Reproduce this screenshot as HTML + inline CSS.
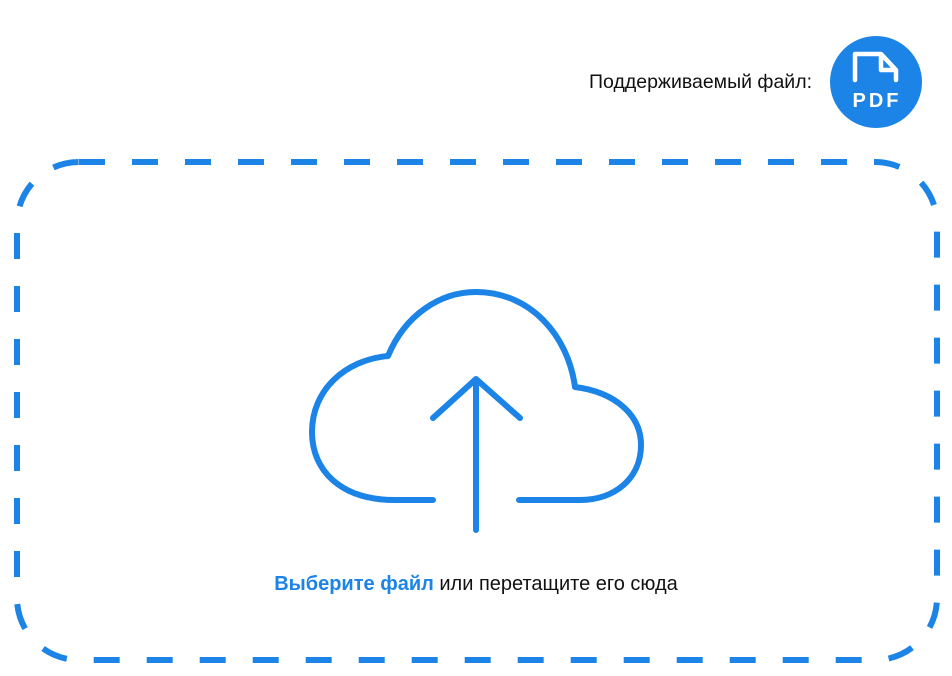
<!DOCTYPE html>
<html><head><meta charset="utf-8"><style>
body{margin:0;width:952px;height:676px;background:#fff;overflow:hidden;position:relative;font-family:"Liberation Sans",sans-serif}
.t{position:absolute;color:#111;white-space:nowrap}
</style></head><body>
<div class="t" style="right:140px;top:71px;font-size:19.5px">Поддерживаемый файл:</div>
<svg width="952" height="676" style="position:absolute;left:0;top:0">
<circle cx="876" cy="82" r="46" fill="#1b84e6"/>
<path d="M855,80 V54 H881 L896,70 V80 M881,54 V70 H896" fill="none" stroke="#fff" stroke-width="4.5" stroke-linejoin="round" stroke-linecap="round"/>
<text x="877" y="107" text-anchor="middle" font-family="Liberation Sans" font-weight="bold" font-size="20" fill="#fff" letter-spacing="3">PDF</text>
<rect x="17" y="162" width="920" height="498" rx="62" fill="none" stroke="#1b84e6" stroke-width="6" stroke-dasharray="26 27"/>
<path d="M433,500 H395 C340,500 312,470 312,432 C312,390 345,360 388,356 C405,315 440,292 476,292 C530,292 568,335 575,387 C615,392 641,415 641,445 C641,478 615,500 580,500 H519" fill="none" stroke="#1b84e6" stroke-width="6" stroke-linecap="round" stroke-linejoin="round"/>
<path d="M476,382 V530 M433,418 L476,379 L520,418" fill="none" stroke="#1b84e6" stroke-width="6" stroke-linecap="round" stroke-linejoin="round"/>
</svg>
<div class="t" style="left:0;width:952px;text-align:center;top:573px;font-size:20px"><b style="color:#1b84e6">Выберите файл</b> или перетащите его сюда</div>
</body></html>
